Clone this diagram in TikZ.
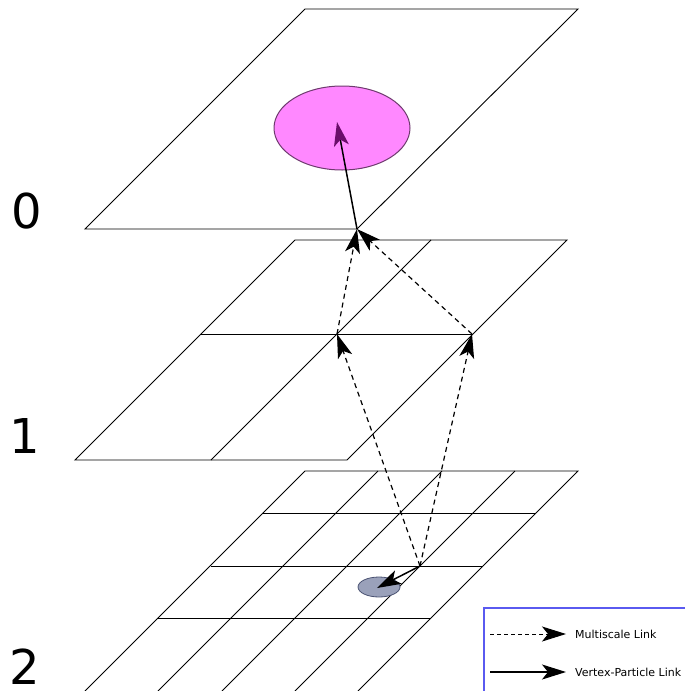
\documentclass[tikz,border=0pt]{standalone}
\usepackage{fontspec}
\setmainfont{DejaVu Sans}
\usetikzlibrary{arrows.meta,shapes.geometric}
\definecolor{pinkfill}{HTML}{FF88FF}
\definecolor{pinkedge}{HTML}{6E3A6E}
\definecolor{tipviolet}{HTML}{6A0D6A}
\definecolor{bluefill}{HTML}{9AA1BA}
\definecolor{blueedge}{HTML}{4A5272}
\definecolor{legblue}{HTML}{5A5AF0}
\tikzset{
  plane/.style={draw=black, line width=0.9pt},
  gridline/.style={draw=black, line width=0.9pt},
  bigtip/.style={-{Stealth[length=24pt,width=15pt,inset=6pt]}},
  mslink/.style={draw=black, line width=1.2pt, dash pattern=on 5pt off 4pt, bigtip},
  vplink/.style={draw=black, line width=1.5pt, bigtip},
  levellabel/.style={font=\fontsize{48}{48}\selectfont, inner sep=0pt, anchor=base, text depth=0pt},
  legtext/.style={font=\fontsize{11}{12}\selectfont, anchor=west, inner sep=0pt}
}
\begin{document}
\begin{tikzpicture}[x=1pt,y=-1pt]
\useasboundingbox (0,0) rectangle (685,691);
\clip (0,0) rectangle (685,691);
% level labels
\node[levellabel] (l0) at (27,228) {0};
\node[levellabel] (l1) at (25,453) {1};
\node[levellabel] (l2) at (25,684) {2};
% plane 0
\draw[plane] (305,9) -- (578,9) -- (357,229) -- (85,229) -- cycle;
% plane 1
\draw[plane] (295,240) -- (567,240) -- (347,460) -- (75,460) -- cycle;
\draw[gridline] (201,334) -- (473,334);
\draw[gridline] (431,240) -- (211,460);
% plane 2 (runs past the bottom edge)
\draw[gridline] (85,691) -- (305,471) -- (578,471) -- (358,691);
\draw[gridline] (378,471) -- (158,691);
\draw[gridline] (442,471) -- (222,691);
\draw[gridline] (515,471) -- (295,691);
\draw[gridline] (263,513) -- (536,513);
\draw[gridline] (211,566) -- (483,566);
\draw[gridline] (158,618) -- (431,618);
% vertices
\coordinate (v0) at (357,229);
\coordinate (v1a) at (337,334);
\coordinate (v1b) at (472,334);
\coordinate (v2) at (420,566);
% particles
\node[ellipse, draw=pinkedge, fill=pinkfill, line width=1pt, minimum width=136pt, minimum height=84pt, inner sep=0pt] (p0) at (342,128) {};
\node[ellipse, draw=blueedge, fill=bluefill, line width=0.8pt, minimum width=42pt, minimum height=20pt, inner sep=0pt] (p2) at (379,587) {};
\coordinate (t0) at (337,122);
\coordinate (t2) at (377,588);
% links
\draw[mslink] (v2) -- (v1a);
\draw[mslink] (v2) -- (v1b);
\draw[mslink] (v1a) -- (v0);
\draw[mslink] (v1b) -- (v0);
\draw[line width=1.5pt, -{Stealth[length=24pt,width=15pt,inset=6pt,color=tipviolet]}] (v0) -- (t0);
\draw[vplink] (v2) -- (t2);
% legend
\draw[draw=legblue, fill=white, line width=1.2pt] (484,608) rectangle (695,700);
\coordinate (la) at (490,634);
\coordinate (lb) at (566,634);
\coordinate (lc) at (490,672);
\coordinate (ld) at (566,672);
\draw[mslink, line width=1pt, dash pattern=on 4pt off 3pt] (la) -- (lb);
\draw[vplink, line width=1.2pt] (lc) -- (ld);
\node[legtext] (m1) at (575,634) {Multiscale Link};
\node[legtext] (m2) at (575,672) {Vertex-Particle Link};
\end{tikzpicture}
\end{document}
